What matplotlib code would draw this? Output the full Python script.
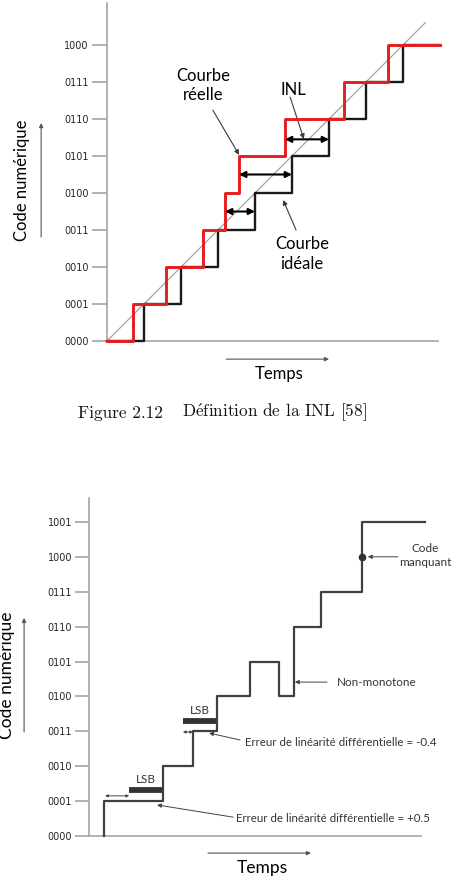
import matplotlib
matplotlib.use("Agg")
import matplotlib.pyplot as plt

plt.rcParams["mathtext.fontset"] = "cm"

W, H = 453, 896
fig = plt.figure(figsize=(W / 100, H / 100), dpi=100)

# ---------------- data : top chart (INL) ----------------
top_codes = ["0000", "0001", "0010", "0011", "0100", "0101", "0110", "0111", "1000"]
top_levels = list(range(9))
ideal_edges = [0, 1, 2, 3, 4, 5, 6, 7, 8, 9]
ideal_vals = [0, 1, 2, 3, 4, 5, 6, 7, 8, 8]
real_edges = [0, 0.70, 1.59, 2.59, 3.19, 3.57, 4.81, 6.41, 7.59, 9.0]
real_vals = [0, 1, 2, 3, 4, 5, 6, 7, 8, 8]
diag_end = 8.6
inl_level = [3.5, 4.5, 5.45]
inl_start = [3.19, 3.57, 4.81]
inl_end = [4.0, 5.0, 6.0]

# ---------------- data : bottom chart (DNL) ----------------
bot_codes = ["0000", "0001", "0010", "0011", "0100", "0101", "0110", "0111", "1000", "1001"]
bot_levels = list(range(10))
dnl_edges = [0.43, 2.12, 2.98, 3.67, 4.60, 5.44, 5.87, 6.65, 7.82, 9.63]
dnl_vals = [0, 1, 2, 3, 4, 5, 4, 6, 7, 9]
missing_code = (7.82, 8)
lsb_bars = [(1.15, 2.12, 1.32), (2.69, 3.64, 3.30)]
small_arrows = [(0.46, 1.15, 1.15), (2.69, 2.98, 2.98)]

GRAY_AX = "#a6a6a6"
TXT = "#262626"
ANN_FONT = ["Lato", "DejaVu Sans"]


def px_axes(x0, y0, x1, y1, ox, oy, unit):
    """axes covering pixel box (x0,y0)-(x1,y1), data origin at pixel (ox,oy)"""
    ax = fig.add_axes([x0 / W, 1 - y1 / H, (x1 - x0) / W, (y1 - y0) / H])
    ax.set_xlim((x0 - ox) / unit, (x1 - ox) / unit)
    ax.set_ylim((oy - y1) / unit, (oy - y0) / unit)
    ax.patch.set_alpha(0)
    return ax


def style_axes(ax, codes, levels, ytop, xright, ticklen):
    for s in ["top", "right"]:
        ax.spines[s].set_visible(False)
    ax.spines["left"].set_position(("data", 0))
    ax.spines["bottom"].set_position(("data", 0))
    ax.spines["left"].set_bounds(0, ytop)
    ax.spines["bottom"].set_bounds(0, xright)
    for s in ["left", "bottom"]:
        ax.spines[s].set_color(GRAY_AX)
        ax.spines[s].set_linewidth(1.2)
    ax.set_xticks([])
    ax.set_yticks(levels)
    ax.set_yticklabels(codes)
    ax.tick_params(axis="y", direction="out", length=ticklen, width=1.2,
                   color=GRAY_AX, pad=2.2, labelsize=7.0, labelcolor=TXT)


# ======================= TOP CHART =======================
ax1 = px_axes(0, 0, 453, 385, 107, 341, 37.0)
style_axes(ax1, top_codes, top_levels, 9.135, 8.95, 11)

ax1.plot([0, diag_end], [0, diag_end], color="#a0a0a0", lw=0.9, zorder=2)
ax1.step(ideal_edges, ideal_vals, where="post", color="#1a1a1a", lw=1.7, zorder=3)
ax1.step(real_edges, real_vals, where="post", color="#e41e1e", lw=2.1, zorder=4)

for lv, a, b in zip(inl_level, inl_start, inl_end):
    ax1.annotate("", xy=(b, lv), xytext=(a, lv),
                 arrowprops=dict(arrowstyle="<|-|>", color="black", lw=1.5,
                                 mutation_scale=9, shrinkA=0, shrinkB=0), zorder=5)

ptr = dict(arrowstyle="-|>", color="#3a3a3a", lw=0.8, mutation_scale=7,
           shrinkA=0, shrinkB=0)
ax1.annotate("", xy=(3.57, 5.03), xytext=(2.86, 6.24), arrowprops=ptr)
ax1.annotate("", xy=(5.32, 5.46), xytext=(4.95, 6.59), arrowprops=ptr)
ax1.annotate("", xy=(4.76, 3.81), xytext=(5.11, 3.00), arrowprops=ptr)

ax1.text(2.59, 6.91, "Courbe\nréelle", ha="center", va="center", fontsize=12,
         family=ANN_FONT, color="black", linespacing=1.25)
ax1.text(5.03, 6.78, "INL", ha="center", va="center", fontsize=12,
         family=ANN_FONT, color="black")
ax1.text(5.27, 2.35, "Courbe\nidéale", ha="center", va="center", fontsize=12,
         family=ANN_FONT, color="black", linespacing=1.25)

ax1.text(-2.30, 4.35, "Code numérique", rotation=90, ha="center", va="center",
         fontsize=12, family=ANN_FONT, color="black")
ax1.annotate("", xy=(-1.78, 5.89), xytext=(-1.78, 2.81),
             arrowprops=dict(arrowstyle="-|>", color="#555555", lw=0.8,
                             mutation_scale=6, shrinkA=0, shrinkB=0))
ax1.text(4.65, -0.89, "Temps", ha="center", va="center", fontsize=12,
         family=ANN_FONT, color="black")
ax1.annotate("", xy=(6.0, -0.49), xytext=(3.22, -0.49),
             arrowprops=dict(arrowstyle="-|>", color="#555555", lw=0.8,
                             mutation_scale=6, shrinkA=0, shrinkB=0))

# ======================= CAPTION =======================
cap_font = ["cmr10", "DejaVu Serif"]
fig.text(78 / W, 1 - 413 / H, "Figure 2.12", ha="left", va="center",
         fontsize=12.4, family=cap_font, color="#111111")
fig.text(182 / W, 1 - 413 / H, r"D$\acute{\mathrm{e}}$finition de la INL [58]",
         ha="left", va="center", fontsize=12.4, family=cap_font, color="#111111")

# ======================= BOTTOM CHART =======================
ax2 = px_axes(0, 440, 453, 896, 89, 836, 34.9)
style_axes(ax2, bot_codes, bot_levels, 9.685, 9.51, 10)

ax2.step(dnl_edges, dnl_vals, where="pre", color="#404040", lw=1.6, zorder=3)
ax2.plot([missing_code[0]], [missing_code[1]], "o", color="#333333", ms=4.5, zorder=4)

for a, b, lv in lsb_bars:
    ax2.plot([a, b], [lv, lv], color="#333333", lw=4.2, solid_capstyle="butt")
    ax2.text((a + b) / 2, lv + 0.31, "LSB", ha="center", va="center",
             fontsize=8.4, family=ANN_FONT, color="#333333")
for a, b, lv in small_arrows:
    ax2.annotate("", xy=(b, lv), xytext=(a, lv),
                 arrowprops=dict(arrowstyle="<|-|>", color="#444444", lw=0.7,
                                 mutation_scale=4, shrinkA=0, shrinkB=0))

ptr2 = dict(arrowstyle="-|>", color="#444444", lw=0.7, mutation_scale=6,
            shrinkA=0, shrinkB=0)
ax2.annotate("", xy=(7.99, 8.0), xytext=(8.85, 8.0), arrowprops=ptr2)
ax2.text(9.63, 8.04, "Code\nmanquant", ha="center", va="center", fontsize=8.5,
         family=ANN_FONT, color="#333333", linespacing=1.3)
ax2.annotate("", xy=(5.90, 4.41), xytext=(6.82, 4.41), arrowprops=ptr2)
ax2.text(7.11, 4.41, "Non-monotone", ha="left", va="center", fontsize=8.4,
         family=ANN_FONT, color="#333333")
ax2.annotate("", xy=(3.44, 2.95), xytext=(4.33, 2.75), arrowprops=ptr2)
ax2.text(4.47, 2.69, "Erreur de linéarité différentielle = -0.4", ha="left",
         va="center", fontsize=8.3, family=ANN_FONT, color="#333333")
ax2.annotate("", xy=(1.95, 0.89), xytext=(4.13, 0.54), arrowprops=ptr2)
ax2.text(4.21, 0.49, "Erreur de linéarité différentielle = +0.5", ha="left",
         va="center", fontsize=8.3, family=ANN_FONT, color="#333333")

ax2.text(-2.35, 4.61, "Code numérique", rotation=90, ha="center", va="center",
         fontsize=12.5, family=ANN_FONT, color="black")
ax2.annotate("", xy=(-1.86, 6.25), xytext=(-1.86, 2.98),
             arrowprops=dict(arrowstyle="-|>", color="#555555", lw=0.8,
                             mutation_scale=6, shrinkA=0, shrinkB=0))
ax2.text(4.96, -0.92, "Temps", ha="center", va="center", fontsize=12.5,
         family=ANN_FONT, color="black")
ax2.annotate("", xy=(6.36, -0.49), xytext=(3.41, -0.49),
             arrowprops=dict(arrowstyle="-|>", color="#555555", lw=0.8,
                             mutation_scale=6, shrinkA=0, shrinkB=0))

fig.savefig("out.png", dpi=100)
